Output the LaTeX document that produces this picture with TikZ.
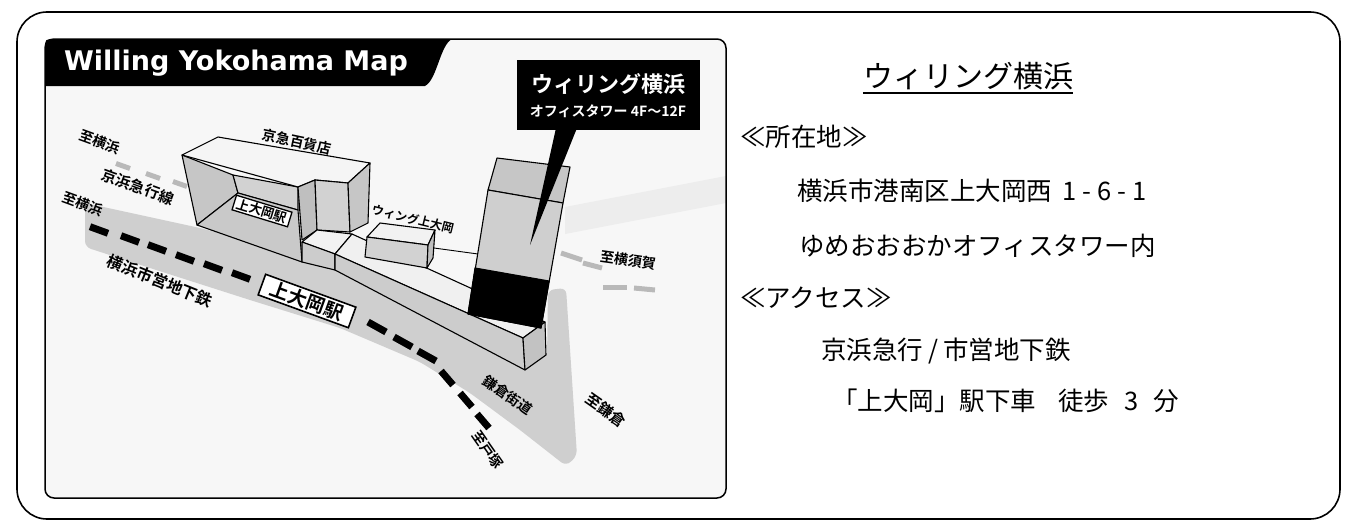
\documentclass[tikz,border=0pt]{standalone}
\usepackage{fontspec}
\newfontfamily\jp{Noto Sans CJK JP}
\newfontfamily\jpb{Noto Sans CJK JP Bold}
\newfontfamily\ttlfont{DejaVu Sans}
\begin{document}
\tikzset{
 lbl/.style={font=\jpb\fontsize{14}{14}\selectfont, inner sep=0pt},
 body/.style={font=\jp\fontsize{25.5}{26}\selectfont, anchor=west, inner sep=0pt},
 face/.style={draw=black, line width=1.1pt, line join=round},
 subdash/.style={line width=7pt, black},
 kqdash/.style={line width=5pt, gray!55},
 stn/.style={draw=black, fill=white, line width=1.3pt, font=\jpb\fontsize{13}{13}\selectfont, inner xsep=3pt, inner ysep=1.5pt},
}
\begin{tikzpicture}[x=1pt,y=-1pt]
\useasboundingbox (0,0) rectangle (1357,530);
\fill[white] (0,0) rectangle (1357,530);
% outer frame
\draw[line width=1.6pt, rounded corners=30pt] (17,12) rectangle (1340,519);
% map panel background
\fill[gray!6, rounded corners=9pt] (45,39) rectangle (726,498);
% light band right of tower
\fill[gray!14] (565,207) -- (726,176) -- (726,203) -- (565,234) -- cycle;
% main gray band (subway / road)
\fill[gray!38, rounded corners=6pt] (85,203) -- (200,228) -- (330,262) -- (440,300) -- (520,340) -- (547,358) -- (548,290) -- (566,288) -- (577,456) -- (566,466) -- (520,430) -- (470,393) -- (420,362) -- (340,328) -- (250,300) -- (150,268) -- (85,247) -- cycle;
% Keikyu dashes
\foreach \x/\y in {123/166,153/176,180/184} \draw[kqdash] ({\x-7},{\y-2.5}) -- ({\x+7},{\y+2.5});
\draw[kqdash] (561,253) -- (582,260);
\draw[kqdash] (583,263) -- (602,268);
\draw[kqdash] (603,287) -- (627,287);
\draw[kqdash] (634,288) -- (655,290);
% subway dashes
\foreach \x/\y in {99/230,130/239,157/248,185/258,213/267,241/276} \draw[subdash] ({\x-9},{\y-3.3}) -- ({\x+9},{\y+3.3});
\foreach \x/\y in {377/327,403/342,427/356} \draw[subdash] ({\x-9},{\y-5}) -- ({\x+9},{\y+5});
\foreach \x/\y in {447/378,466/400,483/421} \draw[subdash] ({\x-6},{\y-7}) -- ({\x+6},{\y+7});
% department store
\filldraw[face, fill=gray!45] (182,155) -- (233,175) -- (238,193) -- (197,225) -- cycle;
\filldraw[face, fill=gray!35] (233,175) -- (298,187) -- (298,210) -- (238,193) -- cycle;
\filldraw[face, fill=gray!42] (197,225) -- (238,193) -- (298,210) -- (302,262) -- cycle;
\filldraw[face, fill=gray!8] (182,155) -- (218,137) -- (370,163) -- (348,183) -- (315,180) -- (298,187) -- cycle;
\filldraw[face, fill=gray!50] (298,187) -- (315,180) -- (317,230) -- (302,240) -- cycle;
\filldraw[face, fill=gray!35] (315,180) -- (348,183) -- (350,232) -- (317,230) -- cycle;
\filldraw[face, fill=gray!45] (348,183) -- (370,163) -- (368,223) -- (350,232) -- cycle;
% station connecting block
\filldraw[face, fill=gray!10] (302,242) -- (317,230) -- (352,234) -- (335,254) -- cycle;
\filldraw[face, fill=gray!40] (302,242) -- (335,254) -- (335,270) -- (302,262) -- cycle;
% walkway
\filldraw[face, fill=gray!12] (335,254) -- (352,234) -- (545,322) -- (523,338) -- cycle;
\filldraw[face, fill=gray!40] (335,254) -- (523,338) -- (525,370) -- (335,270) -- cycle;
\filldraw[face, fill=gray!48] (523,338) -- (545,322) -- (546,355) -- (525,370) -- cycle;
% Wing Kamiooka
\filldraw[face, fill=gray!10] (367,237) -- (380,223) -- (435,230) -- (428,245) -- cycle;
\filldraw[face, fill=gray!35] (367,237) -- (428,245) -- (427,268) -- (365,257) -- cycle;
\filldraw[face, fill=gray!50] (428,245) -- (435,230) -- (433,258) -- (427,268) -- cycle;
\draw[line width=0.9pt] (434,248) -- (478,254);
% office tower
\filldraw[face, fill=gray!45] (497,158) -- (570,167) -- (563,203) -- (488,190) -- cycle;
\filldraw[face, fill=gray!38] (488,190) -- (563,203) -- (541,328) -- (468,314) -- cycle;
\filldraw[face, fill=black] (475,268) -- (549,281) -- (541,328) -- (468,314) -- cycle;
% map labels
\node[lbl, rotate=-12] (dept) at (297,142) {京急百貨店};
\node[stn, rotate=-17] (stnA) at (262,211) {上大岡駅};
\node[stn, rotate=-20, font=\jpb\fontsize{19}{19}\selectfont, inner xsep=10pt, inner ysep=2pt, line width=1.6pt] (stnB) at (307,301) {上大岡駅};
\node[lbl, rotate=-22, font=\jpb\fontsize{16}{16}\selectfont] (sub) at (160,281) {横浜市営地下鉄};
\node[lbl, rotate=-20, font=\jpb\fontsize{15}{15}\selectfont] (kq) at (138,187) {京浜急行線};
\node[lbl, rotate=-20] (yokoA) at (100,142) {至横浜};
\node[lbl, rotate=-20] (yokoB) at (83,204) {至横浜};
\node[lbl, rotate=-14, font=\jpb\fontsize{12}{12}\selectfont] (wing) at (413,219) {ウィング上大岡};
\node[lbl, rotate=-8] (yksk) at (628,260) {至横須賀};
\node[lbl, rotate=-35] (kmkd) at (508,395) {鎌倉街道};
\node[lbl, rotate=-55] (ttk) at (488,450) {至戸塚};
\node[lbl, rotate=-35, font=\jpb\fontsize{15}{15}\selectfont] (kmk) at (606,410) {至鎌倉};
% callout
\node[fill=black, minimum width=183pt, minimum height=70pt, inner sep=0pt] (cbox) at (608.5,95) {};
\fill[black] (556,128) -- (577,128) -- (530,245) -- cycle;
\node[font=\jpb\fontsize{22}{22}\selectfont, text=white, inner sep=0pt] (cl1) at (608,84) {ウィリング横浜};
\node[font=\jpb\fontsize{14}{14}\selectfont, text=white, inner sep=0pt] (cl2) at (608,111) {オフィスタワー 4F～12F};
% title tab
\fill[black] (45,86) -- (45,49) .. controls (45,39) .. (55,39) -- (452,39) .. controls (440,45) and (437,80) .. (425,86) -- cycle;
\node[font=\ttlfont\bfseries\fontsize{27}{27}\selectfont, text=white, inner sep=0pt, anchor=base] (maptitle) at (236,70) {Willing Yokohama Map};
% panel border
\draw[line width=1.5pt, rounded corners=9pt] (45,39) rectangle (726,498);
% right text
\node[font=\jp\fontsize{30}{30}\selectfont, inner sep=0pt] (title) at (968,76) {ウィリング横浜};
\draw[line width=1.8pt] ([yshift=-3pt]title.south west) -- ([yshift=-3pt]title.south east);
\node[body] (l1) at (740,137) {≪所在地≫};
\node[body] (l2) at (797,191) {横浜市港南区上大岡西\hspace{10pt}1\kern6pt-\kern6pt6\kern6pt-\kern6pt1};
\node[body] (l3) at (799,246) {ゆめおおおかオフィスタワー内};
\node[body] (l4) at (740,298) {≪アクセス≫};
\node[body] (l5) at (821,351) {京浜急行\kern5pt/\kern5pt市営地下鉄};
\node[body] (l6) at (832,401) {「上大岡」駅下車\hspace{22pt}徒歩\hspace{15pt}3\hspace{15pt}分};
\end{tikzpicture}
\end{document}
